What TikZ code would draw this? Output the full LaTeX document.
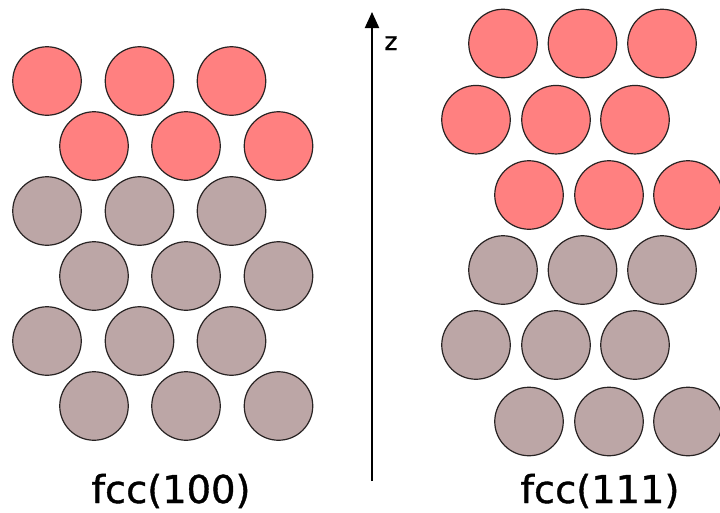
\documentclass[tikz,border=0pt]{standalone}
\usepackage{fontspec}
\setmainfont{DejaVu Sans}
\newfontfamily\labelfont[FakeBold=1.0]{DejaVu Sans}
\usetikzlibrary{arrows.meta}
\definecolor{topatom}{RGB}{255,128,128}
\definecolor{bulkatom}{RGB}{188,166,166}
\definecolor{rimcol}{RGB}{40,35,35}
\tikzset{
  atom/.style={circle, draw=rimcol, line width=1.2pt, minimum size=68.5pt, inner sep=0pt},
  topat/.style={atom, fill=topatom},
  bulkat/.style={atom, fill=bulkatom},
  axisline/.style={line width=2pt, -{Triangle[width=14pt,length=16pt]}},
  biglabel/.style={anchor=base, inner sep=0pt, font=\labelfont\fontsize{38.4}{40}\selectfont},
  zlabel/.style={anchor=base, inner sep=0pt, font=\labelfont\fontsize{25}{27}\selectfont}
}
\begin{document}
\begin{tikzpicture}[x=1pt, y=-1pt]
\useasboundingbox (0,0) rectangle (720,512);
% fcc(100)
\foreach \r/\y/\s in {1/81/topat, 3/211/bulkat, 5/341/bulkat}{
  \foreach \c/\x in {1/47, 2/139.5, 3/231.5}{
    \node[\s] (a\r\c) at (\x,\y) {};
  }
}
\foreach \r/\y/\s in {2/146/topat, 4/276/bulkat, 6/406/bulkat}{
  \foreach \c/\x in {1/94, 2/186, 3/278.5}{
    \node[\s] (a\r\c) at (\x,\y) {};
  }
}
% fcc(111)
\foreach \r/\y/\s in {1/43.5/topat, 4/270/bulkat}{
  \foreach \c/\x in {1/503, 2/582.5, 3/662}{
    \node[\s] (b\r\c) at (\x,\y) {};
  }
}
\foreach \r/\y/\s in {2/119.7/topat, 5/345/bulkat}{
  \foreach \c/\x in {1/476, 2/556, 3/635}{
    \node[\s] (b\r\c) at (\x,\y) {};
  }
}
\foreach \r/\y/\s in {3/195/topat, 6/421.5/bulkat}{
  \foreach \c/\x in {1/529, 2/609, 3/688}{
    \node[\s] (b\r\c) at (\x,\y) {};
  }
}
% z axis
\coordinate (zbot) at (372,481);
\coordinate (ztop) at (372,12);
\draw[axisline] (zbot) -- (ztop);
\node[zlabel] (zl) at (391,50) {z};
% labels
\node[biglabel] (l100) at (171,503) {fcc(100)};
\node[biglabel] (l111) at (600,503) {fcc(111)};
\end{tikzpicture}
\end{document}
